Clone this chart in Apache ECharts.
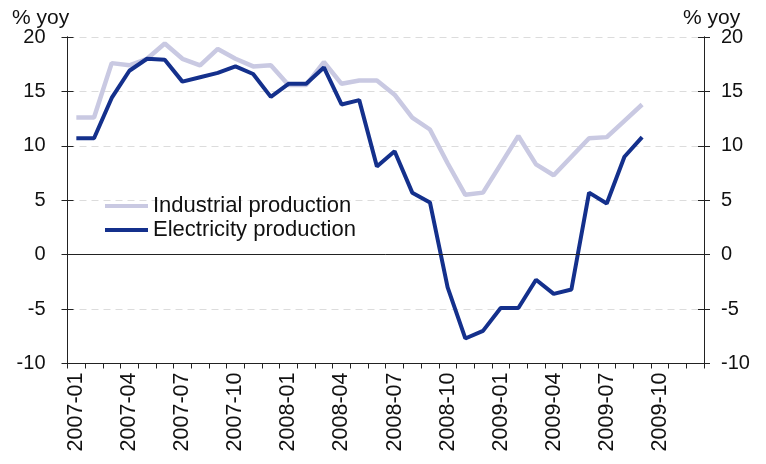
<!DOCTYPE html>
<html>
<head>
<meta charset="utf-8">
<script src="https://cdn.jsdelivr.net/npm/echarts@6/dist/echarts.min.js"></script>
<style>
html,body{margin:0;padding:0;background:#fff;}
#chart{width:766px;height:464px;}
</style>
</head>
<body>
<div id="chart"></div>
<script>
const categories = [
  '2007-01','2007-02','2007-03','2007-04','2007-05','2007-06','2007-07','2007-08','2007-09','2007-10','2007-11','2007-12',
  '2008-01','2008-02','2008-03','2008-04','2008-05','2008-06','2008-07','2008-08','2008-09','2008-10','2008-11','2008-12',
  '2009-01','2009-02','2009-03','2009-04','2009-05','2009-06','2009-07','2009-08','2009-09','2009-10','2009-11','2009-12'
];
const industrial = [12.6, 12.6, 17.6, 17.4, 18.0, 19.4, 18.0, 17.4, 18.9, 18.0, 17.3, 17.4,
  15.6, 15.6, 17.7, 15.7, 16.0, 16.0, 14.7, 12.6, 11.5, 8.4, 5.5, 5.7,
  8.3, 10.9, 8.3, 7.3, 9.0, 10.7, 10.8, 12.3, 13.8];
const electricity = [10.7, 10.7, 14.4, 16.9, 18.0, 17.9, 15.9, 16.3, 16.7, 17.3, 16.6, 14.5,
  15.7, 15.7, 17.2, 13.8, 14.2, 8.1, 9.5, 5.7, 4.8, -3.0, -7.7, -7.0,
  -4.9, -4.9, -2.3, -3.6, -3.2, 5.7, 4.7, 9.0, 10.8];
const seriesNames = ['Industrial production', 'Electricity production'];
const yUnit = '% yoy';

const FONT = 'Liberation Sans';
const axisColor = '#222';
const chart = echarts.init(document.getElementById('chart'));

function yAx(pos, showLabel, inside) {
  return {
    type: 'value', position: pos, min: -10, max: 20, interval: 5,
    axisLine: { show: true, lineStyle: { color: axisColor, width: 1 } },
    axisTick: { show: true, inside: inside, length: 6, lineStyle: { color: axisColor } },
    axisLabel: { show: showLabel, color: '#111', fontFamily: FONT, fontSize: 20, margin: pos === 'left' ? 22 : 17 },
    splitLine: { show: showLabel && pos === 'left', lineStyle: { color: '#dcdcdc', type: [7, 5], width: 1 } }
  };
}

chart.setOption({
  animation: false,
  grid: { left: 67.5, right: 62, top: 37, bottom: 100.5 },
  legend: {
    orient: 'vertical', left: 105, top: 195, padding: 0, icon: 'rect', itemWidth: 43, itemHeight: 4, itemGap: 2,
    textStyle: { fontFamily: FONT, fontSize: 22, color: '#111', lineHeight: 22 },
    data: seriesNames
  },
  graphic: [
    { type: 'text', left: 12, top: 8, style: { text: yUnit, font: '21px "Liberation Sans"', fill: '#111' } },
    { type: 'text', left: 683, top: 8, style: { text: yUnit, font: '21px "Liberation Sans"', fill: '#111' } }
  ],
  xAxis: {
    type: 'category', data: categories, boundaryGap: true,
    axisLine: { show: true, onZero: false, lineStyle: { color: axisColor } },
    axisTick: { show: true, interval: 0, length: 5, lineStyle: { color: axisColor } },
    axisLabel: { interval: 2, rotate: 90, fontFamily: FONT, fontSize: 21.5, color: '#111', margin: 9 },
    splitLine: { show: false }
  },
  yAxis: [yAx('left', true, false), yAx('right', true, false), yAx('left', false, true), yAx('right', false, true)],
  series: [
    {
      name: seriesNames[0], type: 'line', data: industrial, symbol: 'none',
      color: '#c9c9e2', lineStyle: { width: 4.5, color: '#c9c9e2' },
      markLine: { silent: true, symbol: 'none', label: { show: false },
        lineStyle: { color: axisColor, type: 'solid', width: 1 }, data: [{ yAxis: 0 }] }
    },
    {
      name: seriesNames[1], type: 'line', data: electricity, symbol: 'none',
      color: '#14308c', lineStyle: { width: 4, color: '#14308c' }
    }
  ]
});
</script>
</body>
</html>
